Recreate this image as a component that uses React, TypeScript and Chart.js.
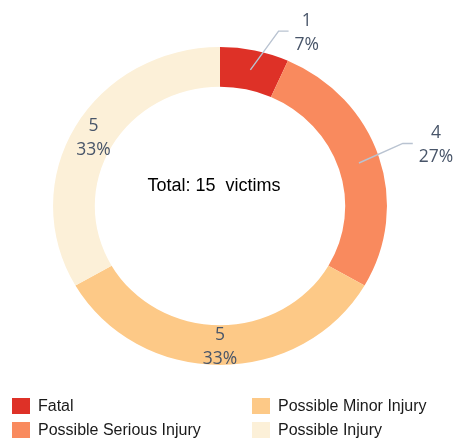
import React, { useEffect, useRef } from "react";
import { Chart, registerables } from "chart.js";

Chart.register(...registerables);

// ---- data ----
const categories = ["Fatal", "Possible Serious Injury", "Possible Minor Injury", "Possible Injury"];
const victims = [1, 4, 5, 5];
const sliceColors = ["#de3127", "#f98a5e", "#fdc987", "#fcf0d8"];
const totalWord = "victims";

// ---- layout/style constants ----
const SX = 1.05; // horizontal stretch of the ring
const LABEL_FONT = '17.5px "Open Sans"';
const LABEL_COLOR = "#485569";
const LINE_COLOR = "#b9c3d1";
const CENTER_FONT = '18px "Liberation Sans"';
const LEGEND_FONT = '16px "Liberation Sans"';

const total = victims.reduce((a, b) => a + b, 0);

const stretchPlugin = {
  id: "stretch",
  beforeDatasetsDraw(chart: any) {
    const ctx = chart.ctx;
    const a = chart.getDatasetMeta(0).data[0];
    ctx.save();
    ctx.translate(a.x, 0);
    ctx.scale(SX, 1);
    ctx.translate(-a.x, 0);
  },
  afterDatasetsDraw(chart: any) {
    chart.ctx.restore();
  },
};

const labelPlugin = {
  id: "sliceLabels",
  afterDraw(chart: any) {
    const ctx = chart.ctx;
    const meta = chart.getDatasetMeta(0);
    ctx.save();
    ctx.font = LABEL_FONT;
    ctx.textBaseline = "middle";
    ctx.textAlign = "center";
    meta.data.forEach((arc: any, i: number) => {
      const { x, y, startAngle, endAngle, innerRadius, outerRadius } = arc.getProps(
        ["x", "y", "startAngle", "endAngle", "innerRadius", "outerRadius"],
        true
      );
      const mid = (startAngle + endAngle) / 2;
      const rMid = (innerRadius + outerRadius) / 2;
      const px = x + SX * rMid * Math.cos(mid);
      const py = y + rMid * Math.sin(mid);
      const frac = victims[i] / total;
      const lines = [String(victims[i]), Math.round(frac * 100) + "%"];
      const w = Math.max(...lines.map((l) => ctx.measureText(l).width));
      let bx = px;
      let by = py + 2;
      if (frac < 0.3) {
        const side = Math.cos(mid) >= 0 ? 1 : -1;
        let t = mid + Math.PI / 2;
        t = ((t % (2 * Math.PI)) + 2 * Math.PI) % (2 * Math.PI);
        const lo = (36 * Math.PI) / 180;
        const hi = (66 * Math.PI) / 180;
        if (side > 0) t = Math.min(Math.max(t, lo), Math.max(hi, Math.PI - hi > t ? hi : t));
        else t = Math.min(Math.max(t, Math.PI + lo), 2 * Math.PI - lo);
        const L = 48;
        const ex = px + L * Math.sin(t);
        const ey = py - L * Math.cos(t);
        const lx = ex + side * 10;
        ctx.strokeStyle = LINE_COLOR;
        ctx.lineWidth = 1.4;
        ctx.beginPath();
        ctx.moveTo(px, py);
        ctx.lineTo(ex, ey);
        ctx.lineTo(lx, ey);
        ctx.stroke();
        bx = lx + side * (6 + w / 2);
        by = ey + 2;
      }
      ctx.fillStyle = LABEL_COLOR;
      ctx.fillText(lines[0], bx, by - 12);
      ctx.fillText(lines[1], bx, by + 12);
    });

    // center text
    const a0 = meta.data[0];
    ctx.font = CENTER_FONT;
    ctx.fillStyle = "#000";
    ctx.textAlign = "center";
    ctx.fillText(`Total: ${total}  ${totalWord}`, a0.x - 6, a0.y - 20);

    // legend: two columns
    const colX = [12, 252];
    const rowY = [406, 430];
    ctx.font = LEGEND_FONT;
    ctx.textAlign = "left";
    categories.forEach((c, i) => {
      const col = Math.floor(i / 2);
      const row = i % 2;
      ctx.fillStyle = sliceColors[i];
      ctx.fillRect(colX[col], rowY[row] - 8, 18, 16);
      ctx.fillStyle = "#1a1a1a";
      ctx.fillText(c, colX[col] + 26, rowY[row] + 1);
    });
    ctx.restore();
  },
};

export default function App() {
  const ref = useRef<HTMLCanvasElement | null>(null);
  useEffect(() => {
    if (!ref.current) return;
    const chart = new Chart(ref.current, {
      type: "doughnut",
      data: {
        labels: categories,
        datasets: [
          {
            data: victims,
            backgroundColor: sliceColors,
            borderWidth: 0,
            hoverOffset: 0,
            clip: false,
          } as any,
        ],
      },
      options: {
        animation: false,
        responsive: true,
        maintainAspectRatio: false,
        cutout: "75%",
        layout: { padding: { top: 47, bottom: 74, left: 61, right: 76 } },
        plugins: { legend: { display: false }, tooltip: { enabled: false } },
      },
      plugins: [stretchPlugin, labelPlugin],
    });
    return () => chart.destroy();
  }, []);
  return (
    <div style={{ position: "fixed", left: 0, top: 0, width: 455, height: 439 }}>
      <canvas ref={ref} />
    </div>
  );
}
